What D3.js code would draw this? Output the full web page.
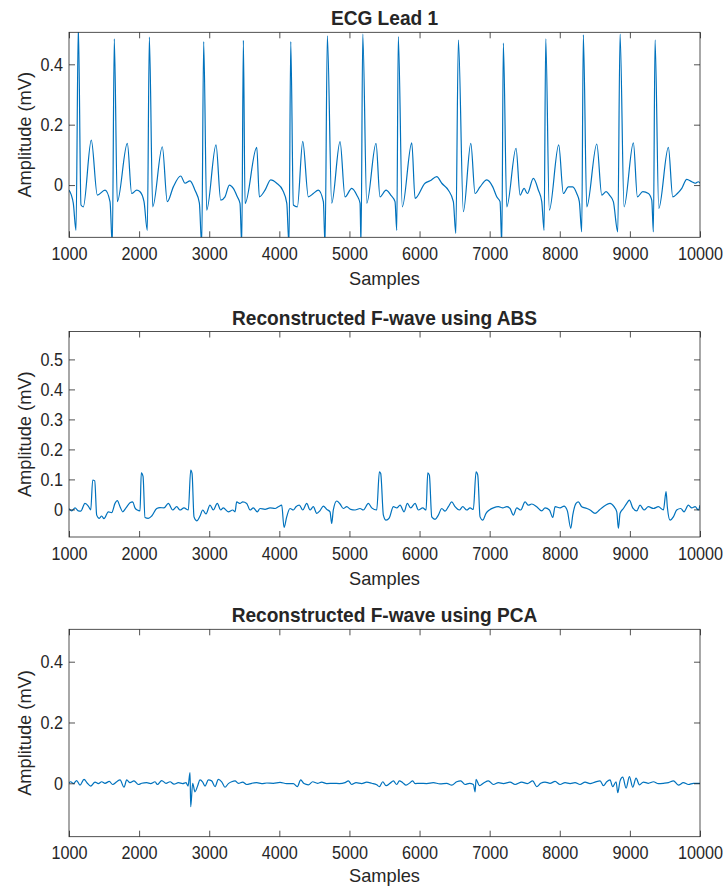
<!DOCTYPE html>
<html>
<head>
<meta charset="utf-8">
<script src="https://cdn.jsdelivr.net/npm/d3@7"></script>
<style>
  html, body { margin: 0; padding: 0; background: #fff; }
  svg { display: block; }
  text { font-family: "Liberation Sans", Arial, Helvetica, sans-serif; fill: #262626; }
</style>
</head>
<body>
<svg id="chart" width="727" height="888"></svg>
<script>
// ECG lead 1 trace: [sample, amplitude (mV)]
const ecgLead1 = [
  [1000,-0.017],[1061,-0.06],[1100,-0.15],[1133,0.53],[1171,-0.066],[1204,-0.072],[1318,0.149],[1404,-0.033],[1514,-0.017],[1585,-0.055],
  [1618,-0.2],[1646,0.484],[1689,-0.055],[1832,0.138],[1894,-0.028],[1966,-0.017],[2013,-0.022],[2070,-0.055],
  [2117,-0.15],[2146,0.49],[2194,-0.072],[2331,0.127],[2402,-0.055],[2488,-0.006],[2593,0.03],[2655,0.006],[2726,0.014],[2797,-0.017],[2859,-0.059],
  [2893,-0.2],[2921,0.475],[2964,-0.083],[3097,0.133],[3164,-0.05],[3225,-0.039],[3287,0.0],[3344,-0.011],[3401,-0.039],[3439,-0.061],
  [3464,-0.2],[3487,0.479],[3511,-0.061],[3678,0.125],[3715,-0.039],[3796,-0.017],[3877,0.017],[3963,0.006],[4048,-0.017],[4106,-0.06],
  [4138,-0.2],[4163,0.475],[4200,-0.066],[4257,-0.072],[4334,0.145],[4414,-0.039],[4485,-0.028],[4556,-0.017],[4628,-0.055],
  [4652,-0.2],[4685,0.494],[4747,-0.06],[4866,0.144],[4937,-0.039],[5033,-0.011],[5104,-0.033],[5151,-0.06],
  [5165,-0.2],[5190,0.5],[5247,-0.06],[5379,0.138],[5436,-0.039],[5522,-0.017],[5589,-0.033],[5650,-0.055],
  [5675,-0.15],[5697,0.492],[5754,-0.072],[5889,0.14],[5936,-0.044],[6078,0.006],[6150,0.014],[6245,0.028],[6317,0.006],[6411,-0.017],[6482,-0.055],
  [6517,-0.16],[6554,0.48],[6625,-0.088],[6731,0.138],[6792,-0.028],[6863,-0.006],[6959,0.017],[7044,-0.006],[7101,-0.039],[7148,-0.055],
  [7173,-0.2],[7195,0.47],[7244,-0.072],[7376,0.122],[7434,-0.033],[7491,-0.011],[7538,-0.028],[7623,0.022],[7695,-0.017],[7743,-0.055],
  [7776,-0.15],[7800,0.484],[7851,-0.083],[7985,0.133],[8051,-0.028],[8122,-0.006],[8185,-0.006],[8242,-0.028],[8279,-0.055],
  [8313,-0.155],[8336,0.4975],[8385,-0.072],[8528,0.136],[8599,-0.033],[8661,-0.022],[8708,-0.033],[8764,-0.055],
  [8827,-0.155],[8860,0.5],[8917,-0.072],[9050,0.14],[9107,-0.039],[9184,-0.022],[9264,-0.028],[9312,-0.05],
  [9335,-0.155],[9359,0.481],[9412,-0.077],[9549,0.125],[9611,-0.039],[9677,-0.028],[9740,-0.011],[9811,0.019],[9883,0.011],[9930,0.006],[9977,0.011],[10000,0.006]
];

// F-wave reconstructed with average beat subtraction (ABS)
const fwaveABS = [
  [1000,0.003],[1039,-0.005],[1086,0.005],[1133,-0.005],[1167,-0.006],[1228,0.02],[1275,0.011],[1310,-0.002],[1338,0.098],[1367,0.095],
  [1395,-0.019],[1432,-0.03],[1466,-0.022],[1499,-0.031],[1561,-0.008],[1609,-0.011],[1656,0.02],[1689,0.029],[1728,0.009],[1766,-0.008],
  [1813,0.005],[1870,0.022],[1909,0.025],[1941,0.005],[1974,-0.002],[2013,-0.005],[2031,0.122],[2056,0.11],[2084,-0.027],[2131,-0.03],
  [2180,-0.022],[2251,0.003],[2298,0.006],[2355,0.005],[2417,0.02],[2479,-0.002],[2536,0.009],[2583,-0.002],[2640,0.005],[2702,-0.002],
  [2736,0.131],[2755,0.12],[2783,-0.025],[2822,-0.038],[2869,-0.022],[2907,-0.002],[2954,-0.015],[3011,0.014],[3058,-0.002],[3115,0.02],
  [3164,-0.002],[3201,0.005],[3272,-0.008],[3335,-0.002],[3368,-0.008],[3392,0.025],[3439,0.02],[3478,0.025],[3535,0.02],[3582,-0.002],
  [3629,0.005],[3686,-0.008],[3725,0.003],[3796,0.0],[3867,0.005],[3939,0.003],[3986,0.009],[4034,0.014],[4067,-0.06],[4105,-0.025],
  [4153,0.003],[4200,-0.002],[4238,0.009],[4285,0.014],[4334,-0.002],[4391,0.02],[4438,-0.002],[4485,0.009],[4533,-0.013],[4581,-0.004],
  [4628,0.011],[4676,0.0],[4723,-0.008],[4747,-0.047],[4770,-0.002],[4819,0.028],[4866,0.018],[4913,0.003],[4961,0.009],[5018,0.0],
  [5080,-0.002],[5151,0.003],[5198,-0.002],[5270,0.02],[5318,0.005],[5389,-0.002],[5427,0.125],[5446,0.12],[5484,-0.019],[5522,-0.036],
  [5569,-0.028],[5626,0.009],[5675,0.005],[5722,0.014],[5779,-0.008],[5826,0.02],[5874,0.005],[5936,0.02],[5983,-0.002],[6045,0.005],
  [6093,-0.002],[6117,0.122],[6140,0.114],[6174,-0.025],[6221,-0.033],[6268,-0.019],[6317,0.003],[6364,-0.006],[6411,0.009],[6459,0.025],
  [6506,0.009],[6568,-0.002],[6616,0.009],[6673,-0.002],[6720,0.005],[6767,0.0],[6806,0.125],[6830,0.114],[6863,-0.025],[6901,-0.036],
  [6948,-0.013],[6996,-0.002],[7053,0.005],[7124,0.009],[7187,0.005],[7244,0.009],[7291,0.003],[7338,-0.019],[7386,0.005],[7443,-0.002],
  [7505,0.025],[7552,0.014],[7600,0.018],[7671,0.009],[7743,-0.005],[7790,0.005],[7852,-0.002],[7900,-0.027],[7933,0.009],[8004,0.005],
  [8061,0.011],[8108,-0.005],[8157,-0.063],[8185,-0.019],[8232,0.02],[8265,0.025],[8313,0.009],[8385,0.003],[8432,-0.002],[8503,-0.013],
  [8565,-0.002],[8622,0.009],[8717,0.02],[8774,0.009],[8813,-0.008],[8836,-0.063],[8860,-0.013],[8907,0.003],[8955,0.02],[8993,0.031],
  [9041,0.005],[9098,-0.005],[9145,0.014],[9202,-0.002],[9264,0.009],[9335,0.003],[9406,0.009],[9478,-0.002],[9516,0.059],[9534,0.009],
  [9573,-0.036],[9620,-0.025],[9668,-0.002],[9725,0.003],[9772,-0.008],[9834,0.014],[9883,0.005],[9930,0.009],[9977,-0.002],[10000,0.014]
];

// F-wave reconstructed with principal component analysis (PCA)
const fwavePCA = [
  [1000,0.002],[1024,0.005],[1062,-0.001],[1109,0.009],[1157,-0.006],[1214,0.013],[1262,0.0],[1309,-0.009],[1371,0.004],[1418,-0.001],
  [1466,0.005],[1514,0.0],[1575,0.006],[1623,-0.004],[1680,0.005],[1728,0.011],[1785,-0.013],[1823,0.011],[1870,0.002],[1927,0.008],
  [1989,-0.004],[2037,0.0],[2108,0.002],[2165,-0.001],[2227,0.005],[2260,-0.004],[2322,0.009],[2384,0.0],[2441,0.005],[2498,-0.003],
  [2560,0.002],[2621,-0.001],[2669,0.002],[2698,-0.009],[2726,0.035],[2736,-0.077],[2764,0.0],[2797,-0.028],[2831,-0.011],[2869,0.011],
  [2907,0.004],[2940,-0.009],[2988,0.011],[3035,0.008],[3083,-0.011],[3130,0.013],[3178,0.005],[3225,-0.013],[3273,-0.001],[3320,0.005],
  [3368,0.008],[3416,0.0],[3477,0.004],[3534,-0.004],[3606,0.0],[3677,0.002],[3748,-0.001],[3820,0.001],[3915,0.0],[4010,0.003],
  [4105,-0.001],[4200,-0.001],[4257,-0.011],[4305,0.011],[4352,-0.001],[4414,-0.005],[4476,0.005],[4543,0.0],[4604,0.004],[4676,-0.001],
  [4771,0.0],[4856,-0.001],[4937,0.002],[4985,0.008],[5032,-0.004],[5094,0.002],[5175,-0.001],[5246,0.004],[5318,0.0],[5389,-0.005],
  [5427,-0.011],[5475,0.005],[5522,-0.008],[5579,0.0],[5627,0.008],[5674,-0.004],[5712,0.008],[5760,0.002],[5807,-0.006],[5864,0.002],
  [5902,0.008],[5936,-0.001],[6007,0.0],[6102,-0.001],[6197,0.002],[6292,-0.002],[6388,0.0],[6459,-0.006],[6530,0.005],[6587,0.008],
  [6649,-0.004],[6711,0.0],[6768,-0.004],[6792,-0.028],[6806,0.013],[6854,-0.008],[6920,0.002],[6982,0.008],[7053,-0.004],[7125,0.002],
  [7196,-0.001],[7291,0.004],[7362,-0.004],[7457,0.004],[7538,-0.001],[7614,0.008],[7671,-0.011],[7728,0.0],[7790,0.004],[7861,0.0],
  [7933,0.006],[8004,-0.004],[8075,0.002],[8147,-0.001],[8218,0.002],[8289,-0.004],[8361,0.004],[8432,-0.001],[8503,0.004],[8575,0.008],
  [8622,-0.008],[8670,0.005],[8717,0.011],[8755,-0.011],[8803,0.005],[8827,-0.031],[8860,0.008],[8898,0.02],[8946,-0.016],[8993,0.022],
  [9041,-0.013],[9088,0.017],[9136,-0.005],[9193,0.004],[9264,0.0],[9336,0.005],[9407,-0.001],[9478,0.0],[9550,0.002],[9621,0.008],
  [9692,-0.006],[9763,0.002],[9835,-0.004],[9906,0.0],[9977,0.0],[10000,0.0]
];

const xTickValues = [1000, 2000, 3000, 4000, 5000, 6000, 7000, 8000, 9000, 10000];
const ecgYTicks = [0, 0.2, 0.4];
const absYTicks = [0, 0.1, 0.2, 0.3, 0.4, 0.5];
const pcaYTicks = [0, 0.2, 0.4];
const panelTitles = ["ECG Lead 1", "Reconstructed F-wave using ABS", "Reconstructed F-wave using PCA"];
const xAxisLabel = "Samples";
const yAxisLabel = "Amplitude (mV)";

const svg = d3.select("#chart");
const left = 69, right = 700;
const lineColor = "#0072BD";
const axisColor = "#262626";

// tall, slightly narrow lettering
const tickFont = 18, tickSX = 0.9;
const labelFont = 19, labelSX = 0.96;
const titleFont = 19.5, titleSX = 0.98;

const panels = [
  { data: ecgLead1, ticks: ecgYTicks, title: panelTitles[0], top: 32.3, bottom: 237.3, domain: [-0.173, 0.506], xlab: 48 },
  { data: fwaveABS, ticks: absYTicks, title: panelTitles[1], top: 331.5, bottom: 537,   domain: [-0.092, 0.593], xlab: 48 },
  { data: fwavePCA, ticks: pcaYTicks, title: panelTitles[2], top: 629.3, bottom: 836.7, domain: [-0.1757, 0.5066], xlab: 45.5 }
];

const x = d3.scaleLinear().domain([1000, 10000]).range([left, right]);

// horizontally squeezed text anchored at (cx, cy)
function squeezedText(parent, cx, cy, sx, rot) {
  return parent.append("text")
    .attr("transform", `translate(${cx},${cy})${rot ? ` rotate(${rot})` : ""} scale(${sx},1)`)
    .attr("text-anchor", "middle");
}

panels.forEach((p, i) => {
  const y = d3.scaleLinear().domain(p.domain).range([p.bottom, p.top]);
  const g = svg.append("g");
  const clipId = "clip" + i;

  svg.append("defs").append("clipPath").attr("id", clipId)
    .append("rect").attr("x", left).attr("y", p.top)
    .attr("width", right - left).attr("height", p.bottom - p.top);

  const line = d3.line().x(d => x(d[0])).y(d => y(d[1])).curve(d3.curveMonotoneX);
  g.append("path")
    .attr("clip-path", `url(#${clipId})`)
    .attr("d", line(p.data))
    .attr("fill", "none")
    .attr("stroke", lineColor)
    .attr("stroke-width", 1.2)
    .attr("stroke-linejoin", "round");

  // inward ticks on all four sides
  const fmt = d3.format("~g");
  const axB = g.append("g").attr("transform", `translate(0,${p.bottom})`)
    .call(d3.axisBottom(x).tickValues(xTickValues).tickSize(-6).tickPadding(10).tickFormat(fmt));
  const axT = g.append("g").attr("transform", `translate(0,${p.top})`)
    .call(d3.axisTop(x).tickValues(xTickValues).tickSize(-6).tickFormat(""));
  const axL = g.append("g").attr("transform", `translate(${left},0)`)
    .call(d3.axisLeft(y).tickValues(p.ticks).tickSize(-6).tickPadding(6).tickFormat(fmt));
  const axR = g.append("g").attr("transform", `translate(${right},0)`)
    .call(d3.axisRight(y).tickValues(p.ticks).tickSize(-6).tickFormat(""));
  [axB, axT, axL, axR].forEach(a => {
    a.select(".domain").remove();
    a.selectAll(".tick line").attr("stroke", axisColor).attr("stroke-width", 0.8);
    a.selectAll(".tick text").attr("font-size", tickFont).attr("fill", axisColor)
      .attr("font-family", "'Liberation Sans', Arial, sans-serif")
      .attr("transform", `scale(${tickSX},1)`);
  });
  axL.selectAll(".tick text").attr("x", -6 / tickSX);

  g.append("rect").attr("x", left).attr("y", p.top)
    .attr("width", right - left).attr("height", p.bottom - p.top)
    .attr("fill", "none").attr("stroke", axisColor).attr("stroke-width", 0.8);

  squeezedText(g, (left + right) / 2, p.top - 7, titleSX)
    .attr("font-size", titleFont).attr("font-weight", "bold")
    .text(p.title);

  squeezedText(g, (left + right) / 2, p.bottom + p.xlab, labelSX)
    .attr("font-size", labelFont)
    .text(xAxisLabel);

  squeezedText(g, 31, (p.top + p.bottom) / 2, labelSX, -90)
    .attr("font-size", labelFont)
    .text(yAxisLabel);
});
</script>
</body>
</html>
